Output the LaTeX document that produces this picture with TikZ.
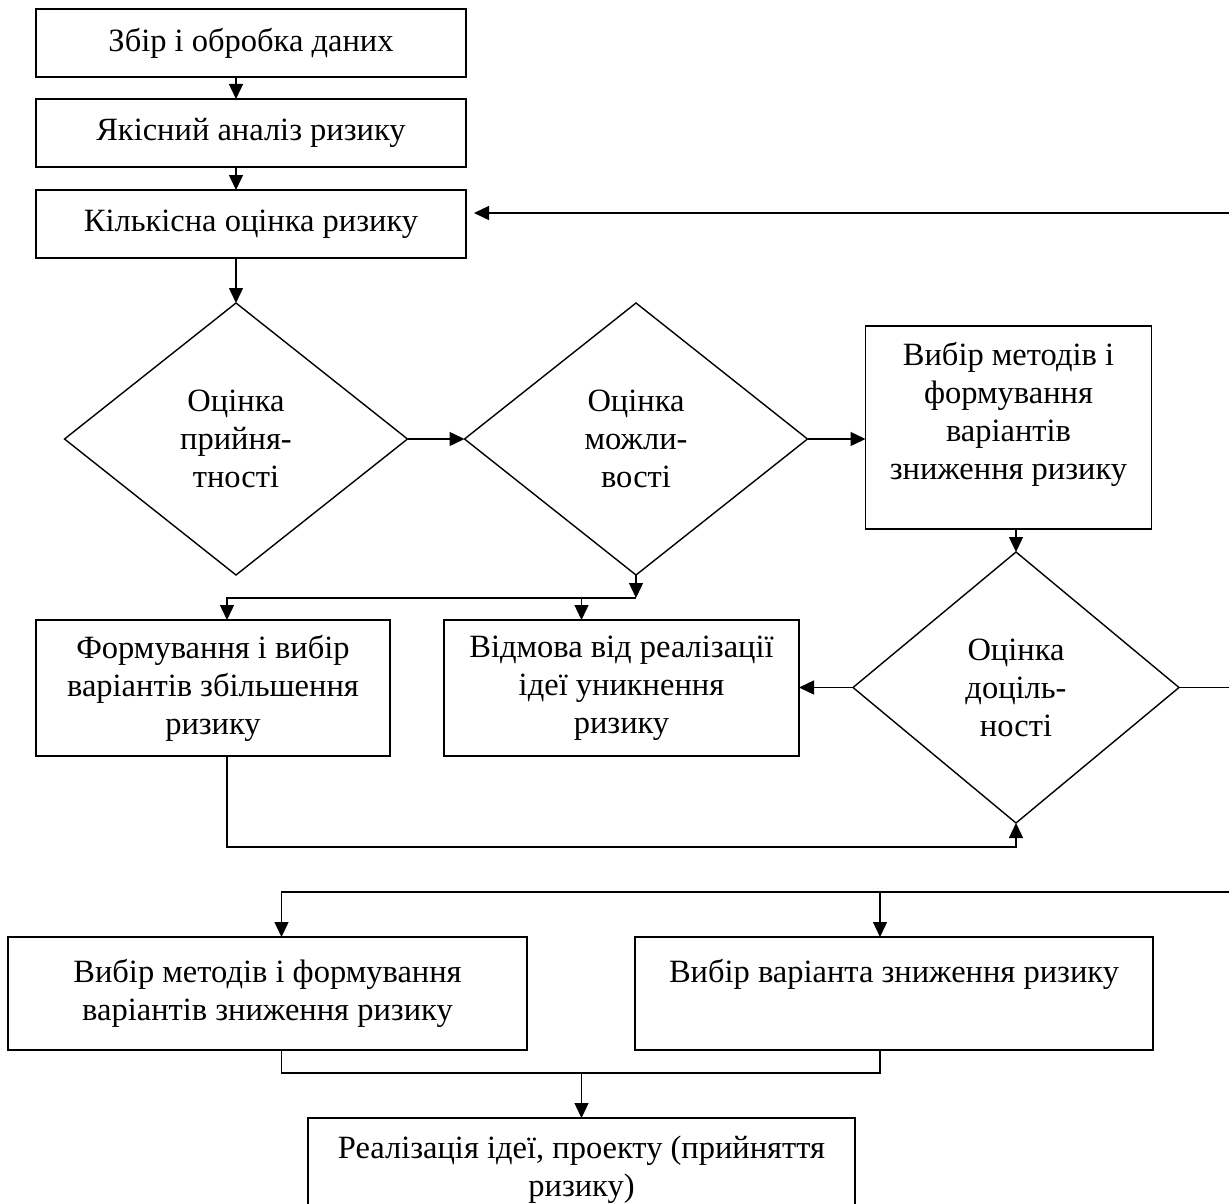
\documentclass[tikz,border=0pt]{standalone}
\usepackage{fontspec}
\setmainfont{Liberation Serif}
\usetikzlibrary{positioning,calc,shapes.geometric,arrows.meta}

\tikzset{
    blok/.style={draw, rectangle, line width=1.4pt, inner sep=0pt, outer sep=0pt, align=center},
    romb/.style={draw, diamond, line width=1.4pt, inner sep=0pt, outer sep=0pt, align=center, minimum width=343pt, minimum height=272pt},
    napys/.style={anchor=north, align=center},
    strilka/.style={-{Triangle[length=15pt,width=14pt]}, line width=1.4pt},
    liniya/.style={line width=1.4pt}
}

\begin{document}
\fontsize{32.5}{38}\selectfont
\begin{tikzpicture}[x=1pt, y=-1pt, node distance=22pt]
    \useasboundingbox (0,0) rectangle (1229,1204);
    \clip (0,0) rectangle (1229,1204);

    \node [blok, minimum width=430pt, minimum height=68pt] (zbir) at (251,43) {Збір і обробка даних};
    \node [blok, minimum width=430pt, minimum height=68pt, below=22pt of zbir] (yakis) {Якісний аналіз ризику};
    \node [blok, minimum width=430pt, minimum height=68pt, below=23pt of yakis] (kilk) {Кількісна оцінка ризику};

    \node [romb] (ocinka1) at (236,439) {Оцінка\\прийня-\\тності};
    \node [romb, right=57pt of ocinka1] (ocinka2) {Оцінка\\можли-\\вості};
    \node [blok, minimum width=286pt, minimum height=203pt, right=58pt of ocinka2, yshift=11.5pt, label={[napys, yshift=-5pt]north:Вибір методів і\\формування\\варіантів\\зниження ризику}] (vybir1) {};
    \node [romb, minimum width=326pt, minimum height=271pt] (ocinka3) at (1016,687.5) {Оцінка\\доціль-\\ності};

    \node [blok, minimum width=354pt, minimum height=136pt] (formuv) at (213,688) {Формування і вибір\\варіантів збільшення\\ризику};
    \node [blok, minimum width=355pt, minimum height=136pt, right=54pt of formuv] (vidmova) {Відмова від реалізації\\ідеї уникнення\\ризику};

    \node [blok, minimum width=519pt, minimum height=113pt] (vybir2) at (267.5,993.5) {Вибір методів і формування\\варіантів зниження ризику};
    \node [blok, minimum width=518pt, minimum height=113pt, right=108pt of vybir2, label={[napys, yshift=-11pt]north:Вибір варіанта зниження ризику}] (vybir3) {};
    \node [blok, minimum width=547pt, minimum height=104pt] (realiz) at (581.5,1170) {Реалізація ідеї, проекту (прийняття\\ризику)};

    \coordinate (pravo1) at (1229,213);
    \coordinate (pravo2) at (1229,687.5);
    \coordinate (pravo3) at (1229,892);
    \coordinate [below=23pt of ocinka2.south] (vuzol1);

    % top chain
    \draw [strilka] (zbir.south -| ocinka1) -- (yakis.north -| ocinka1);
    \draw [strilka] (yakis.south -| ocinka1) -- (kilk.north -| ocinka1);
    \draw [strilka] (kilk.south -| ocinka1) -- (ocinka1.north);
    \draw [strilka, shorten >=8pt] (pravo1) -- (pravo1 -| kilk.east);

    % diamonds
    \draw [strilka] (ocinka1.east) -- (ocinka2.west);
    \draw [strilka] (ocinka2.east) -- (ocinka2.east -| vybir1.west);
    \draw [strilka] (vybir1.south -| ocinka3) -- (ocinka3.north);
    \draw [strilka] (ocinka3.west) -- (ocinka3.west -| vidmova.east);
    \draw [liniya] (ocinka3.east) -- (pravo2);

    \draw [strilka] (ocinka2.south) -- (vuzol1);
    \draw [strilka] (vuzol1) -| ([xshift=14pt]formuv.north);
    \draw [strilka] ([xshift=-40pt]vidmova.north |- vuzol1) -- ([xshift=-40pt]vidmova.north);
    \draw [strilka] ([xshift=14pt]formuv.south) -- ++(0,91) -| (ocinka3.south);

    % bottom part
    \draw [strilka] (pravo3) -| ([xshift=14pt]vybir2.north);
    \draw [strilka] ([xshift=-14pt]vybir3.north |- pravo3) -- ([xshift=-14pt]vybir3.north);
    \draw [liniya] ([xshift=14pt]vybir2.south) -- ++(0,23) coordinate (zbih) -| ([xshift=-14pt]vybir3.south);
    \draw [strilka] (zbih -| realiz.north) -- (realiz.north);

\end{tikzpicture}
\end{document}
